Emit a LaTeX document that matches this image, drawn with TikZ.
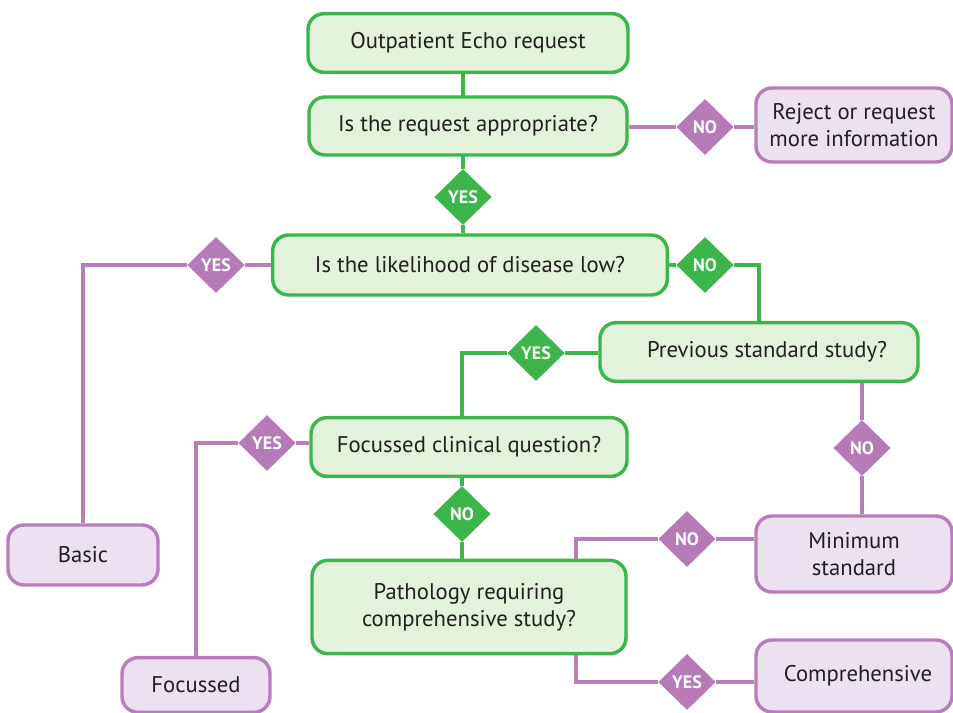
\documentclass[tikz,border=0pt]{standalone}
\usepackage{fontspec}
\setmainfont{PT Sans}
\usetikzlibrary{shapes.geometric,backgrounds}
\definecolor{gborder}{HTML}{3CB54A}
\definecolor{gfill}{HTML}{E3F2DA}
\definecolor{pborder}{HTML}{B97DBA}
\definecolor{pfill}{HTML}{EBE1F1}
\definecolor{pdia}{HTML}{B67AB8}
\definecolor{txt}{HTML}{231F20}
\tikzset{
  gbox/.style={draw=gborder, fill=gfill, line width=2.6pt, rounded corners=12pt, text=txt,
    font=\fontsize{17}{20.5}\selectfont, align=center, inner sep=0pt},
  pbox/.style={draw=pborder, fill=pfill, line width=2.6pt, rounded corners=12pt, text=txt,
    font=\fontsize{17}{20.5}\selectfont, align=center, inner sep=0pt},
  gdia/.style={diamond, fill=gborder, text=white, font=\bfseries\fontsize{13.5}{15}\selectfont,
    minimum width=43pt, minimum height=42pt, inner sep=0pt},
  pdiam/.style={diamond, fill=pdia, text=white, font=\bfseries\fontsize{13.5}{15}\selectfont,
    minimum width=43pt, minimum height=42pt, inner sep=0pt},
  gline/.style={draw=gborder, line width=2.5pt},
  pline/.style={draw=pborder, line width=2.5pt},
}
\begin{document}
\begin{tikzpicture}[x=0.75pt, y=-0.75pt]
\useasboundingbox (0,0) rectangle (953,713);
% boxes
\node[gbox, minimum width=240pt, minimum height=44pt] (out) at (468,43) {Outpatient Echo request};
\node[gbox, minimum width=238.5pt, minimum height=43.5pt] (req) at (468,126) {Is the request appropriate?};
\node[pbox, minimum width=147pt, minimum height=55.5pt] (rej) at (854,125) {Reject or request\\more information};
\node[gbox, minimum width=296pt, minimum height=45pt] (like) at (470,265) {Is the likelihood of disease low?};
\node[gbox, minimum width=238.5pt, minimum height=44pt] (prev) at (759,352) {\hspace*{12pt}Previous standard study?};
\node[gbox, minimum width=237pt, minimum height=44pt] (fq) at (469,447) {Focussed clinical question?};
\node[gbox, minimum width=235.5pt, minimum height=70pt] (path) at (469,607) {Pathology requiring\\comprehensive study?};
\node[pbox, minimum width=112.5pt, minimum height=45pt] (basic) at (83,555) {Basic};
\node[pbox, minimum width=111pt, minimum height=41pt] (focus) at (196,685) {Focussed};
\node[pbox, minimum width=147pt, minimum height=57pt] (min) at (854,554) {Minimum\\standard};
\node[pbox, minimum width=147pt, minimum height=54pt] (comp) at (854,676) {\hspace*{6pt}Comprehensive};
% diamonds
\node[gdia] (d1) at (463,197) {YES};
\node[pdiam] (d2) at (705,127) {NO};
\node[pdiam] (d3) at (216,265) {YES};
\node[gdia] (d4) at (705,265) {NO};
\node[gdia] (d5) at (536,353) {YES};
\node[pdiam] (d6) at (862,448) {NO};
\node[pdiam] (d7) at (267,443) {YES};
\node[gdia] (d8) at (462,514) {NO};
\node[pdiam] (d9) at (687,539) {NO};
\node[pdiam] (d10) at (687,682) {YES};
\coordinate (p1) at (576,560);
\coordinate (p2) at (576,653);
% connectors
\begin{pgfonlayer}{background}
\draw[gline] (d1 |- out.south) -- (d1) -- (d1 |- like.north);
\draw[pline] (req.east |- d2) -- (d2) -- (d2 -| rej.west);
\draw[pline] (like.west |- d3) -- (d3) -| (basic.north);
\draw[gline] (like.east |- d4) -- (d4) -| (prev.north);
\draw[gline] (prev.west |- d5) -- (d5) -| (fq.north -| d8);
\draw[pline] (prev.south -| d6) -- (d6) -- (d6 |- min.north);
\draw[pline] (fq.west |- d7) -- (d7) -| (focus.north);
\draw[gline] (fq.south -| d8) -- (d8) -- (d8 |- path.north);
\draw[pline] (min.west |- d9) -- (d9) -| (p1);
\draw[pline] (comp.west |- d10) -- (d10) -| (p2);
\end{pgfonlayer}
\end{tikzpicture}
\end{document}
